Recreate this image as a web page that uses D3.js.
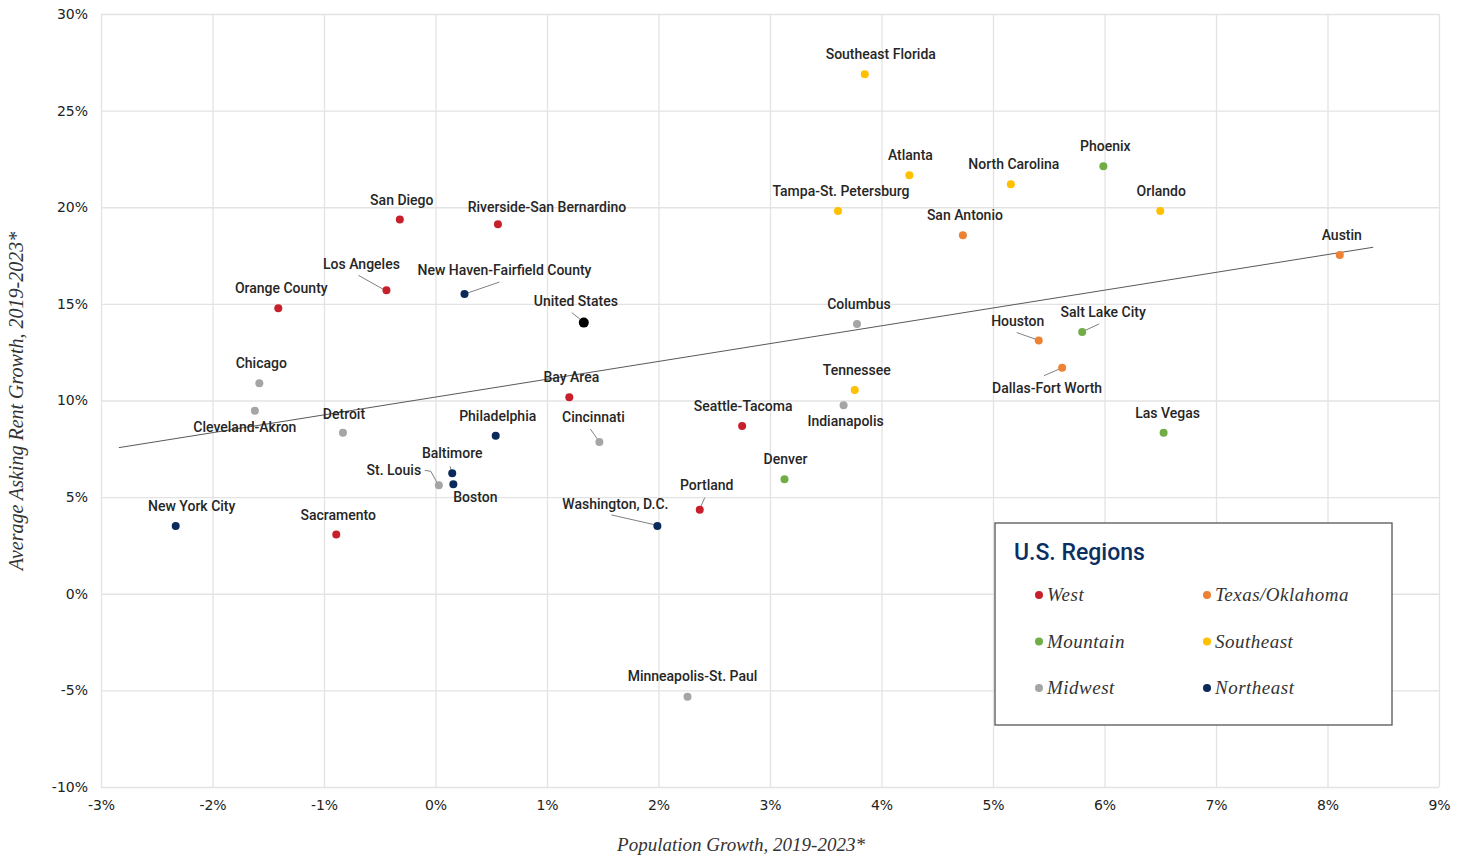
<!DOCTYPE html>
<meta charset="utf-8">
<head>
<script src="https://d3js.org/d3.v7.min.js"></script>
<style>
  body { margin: 0; background: #fff; }
  .tick text { font-family: "DejaVu Sans", sans-serif; font-size: 14px; fill: #222; }
  .lbl { font-family: Roboto, sans-serif; font-size: 14px; font-weight: 500; fill: #262626; }
  .ttl { font-family: "Liberation Serif", serif; font-style: italic; font-size: 19px; fill: #333; }
</style>
</head>
<body>
<div id="my_dataviz"></div>
<script>

// metro areas and their values (population growth %, asking rent growth %)
var cities = ["San Diego", "Riverside-San Bernardino", "Los Angeles", "Orange County", "Bay Area",
  "Seattle-Tacoma", "Portland", "Sacramento",
  "Phoenix", "Salt Lake City", "Denver", "Las Vegas",
  "Chicago", "Cleveland-Akron", "Detroit", "St. Louis", "Cincinnati", "Columbus", "Indianapolis", "Minneapolis-St. Paul",
  "New York City", "Philadelphia", "Baltimore", "Boston", "New Haven-Fairfield County", "Washington, D.C.",
  "Austin", "San Antonio", "Houston", "Dallas-Fort Worth",
  "Southeast Florida", "Atlanta", "North Carolina", "Tampa-St. Petersburg", "Orlando", "Tennessee",
  "United States"];
var popGrowth = [-0.32, 0.56, -0.44, -1.41, 1.20,
  2.75, 2.37, -0.89,
  5.99, 5.80, 3.13, 6.53,
  -1.58, -1.62, -0.83, 0.03, 1.47, 3.78, 3.66, 2.26,
  -2.33, 0.54, 0.15, 0.16, 0.26, 1.99,
  8.11, 4.73, 5.41, 5.62,
  3.85, 4.25, 5.16, 3.61, 6.50, 3.76,
  1.33];
var rentGrowth = [19.36, 19.12, 15.70, 14.77, 10.17,
  8.68, 4.35, 3.06,
  22.12, 13.55, 5.92, 8.33,
  10.89, 9.47, 8.33, 5.61, 7.85, 13.96, 9.75, -5.33,
  3.51, 8.18, 6.23, 5.66, 15.51, 3.51,
  17.53, 18.55, 13.10, 11.70,
  26.88, 21.65, 21.19, 19.81, 19.81, 10.54,
  14.03];
var cityRegion = ["West", "West", "West", "West", "West", "West", "West", "West",
  "Mountain", "Mountain", "Mountain", "Mountain",
  "Midwest", "Midwest", "Midwest", "Midwest", "Midwest", "Midwest", "Midwest", "Midwest",
  "Northeast", "Northeast", "Northeast", "Northeast", "Northeast", "Northeast",
  "Texas/Oklahoma", "Texas/Oklahoma", "Texas/Oklahoma", "Texas/Oklahoma",
  "Southeast", "Southeast", "Southeast", "Southeast", "Southeast", "Southeast",
  "US"];

// trend line end points
var trendX = [-2.84, 8.41];
var trendY = [7.56, 17.93];

var xTicks = [-3, -2, -1, 0, 1, 2, 3, 4, 5, 6, 7, 8, 9];
var yTicks = [-10, -5, 0, 5, 10, 15, 20, 25, 30];

var regions = ["West", "Texas/Oklahoma", "Mountain", "Southeast", "Midwest", "Northeast"];
var colors = {
  "West": "#C8202A", "Texas/Oklahoma": "#EE8133", "Mountain": "#70AD47",
  "Southeast": "#FFC000", "Midwest": "#A5A5A5", "Northeast": "#0B2A5B", "US": "#000"
};

// label placement relative to the dot: [dx, dy] of label centre
var labelPos = {
  "San Diego": [2, -20], "Riverside-San Bernardino": [49, -17], "Los Angeles": [-25, -26],
  "Orange County": [3, -20], "Bay Area": [2, -20], "Seattle-Tacoma": [1, -20],
  "Portland": [7, -25], "Sacramento": [2, -20], "Phoenix": [2, -20], "Salt Lake City": [21, -20],
  "Denver": [1, -20], "Las Vegas": [4, -20], "Chicago": [2, -20], "Cleveland-Akron": [-10, 16],
  "Detroit": [1, -19], "St. Louis": [-45, -15], "Cincinnati": [-6, -25], "Columbus": [2, -20],
  "Indianapolis": [2, 16], "Minneapolis-St. Paul": [5, -21], "New York City": [16, -20],
  "Philadelphia": [2, -20], "Baltimore": [0, -20], "Boston": [22, 13],
  "New Haven-Fairfield County": [40, -24], "Washington, D.C.": [-42, -22], "Austin": [2, -20],
  "San Antonio": [2, -20], "Houston": [-21, -20], "Dallas-Fort Worth": [-15, 20],
  "Southeast Florida": [16, -20], "Atlanta": [1, -20], "North Carolina": [3, -20],
  "Tampa-St. Petersburg": [3, -20], "Orlando": [1, -20], "Tennessee": [2, -20],
  "United States": [-8, -22]
};
// leader lines (points relative to the dot)
var leaders = {
  "Los Angeles": [[-28, -15], [-3, -1]],
  "Portland": [[5, -12], [1, -3]],
  "Salt Lake City": [[17, -8], [2, -1]],
  "St. Louis": [[-14, -15], [-8, -14], [-2, -3]],
  "Cincinnati": [[-9, -13], [-2, -3]],
  "Baltimore": [[-2, -7], [-1, -3]],
  "New Haven-Fairfield County": [[35, -12], [3, -1]],
  "Washington, D.C.": [[-46, -11], [-2, -1]],
  "Houston": [[-22, -8], [-2, -1]],
  "Dallas-Fort Worth": [[-18, 8], [-2, 1]],
  "United States": [[-12, -10], [-2, -2]]
};

var W = 1466, H = 858;
var svg = d3.select("#my_dataviz").append("svg")
  .attr("width", W).attr("height", H);

var x = d3.scaleLinear().domain([-3, 9]).range([101, 1439]);
var y = d3.scaleLinear().domain([-10, 30]).range([787, 14]);
var pct = function(d) { return (d < 0 ? "-" + Math.abs(d) : d) + "%"; };

// gridlines + axes
var gx = svg.append("g")
  .attr("transform", "translate(0,787)")
  .call(d3.axisBottom(x).tickValues(xTicks).tickFormat(pct).tickSize(-773).tickPadding(13));
var gy = svg.append("g")
  .attr("transform", "translate(101,0)")
  .call(d3.axisLeft(y).tickValues(yTicks).tickFormat(pct).tickSize(-1338).tickPadding(13));
[gx, gy].forEach(function(g) {
  g.select(".domain").remove();
  g.selectAll(".tick line").attr("stroke", "#e3e3e3").attr("stroke-width", 1.3);
});

// trend line
svg.append("line")
  .attr("x1", x(trendX[0])).attr("y1", y(trendY[0]))
  .attr("x2", x(trendX[1])).attr("y2", y(trendY[1]))
  .attr("stroke", "#595959").attr("stroke-width", 1);

var data = cities.map(function(c, i) {
  return { name: c, px: popGrowth[i], ry: rentGrowth[i], region: cityRegion[i] };
});

// leader lines
svg.append("g").selectAll("path")
  .data(data.filter(function(d) { return leaders[d.name]; }))
  .enter().append("path")
  .attr("d", function(d) {
    var cx = x(d.px), cy = y(d.ry);
    return "M" + leaders[d.name].map(function(p) { return (cx + p[0]) + "," + (cy + p[1]); }).join("L");
  })
  .attr("fill", "none").attr("stroke", "#808080").attr("stroke-width", 1);

// dots
svg.append("g").selectAll("circle")
  .data(data).enter().append("circle")
  .attr("cx", function(d) { return x(d.px); })
  .attr("cy", function(d) { return y(d.ry); })
  .attr("r", function(d) { return d.region == "US" ? 5 : 4; })
  .style("fill", function(d) { return colors[d.region]; });

// labels
svg.append("g").selectAll("text")
  .data(data).enter().append("text")
  .attr("class", "lbl")
  .attr("text-anchor", "middle")
  .attr("x", function(d) { return x(d.px) + labelPos[d.name][0]; })
  .attr("y", function(d) { return y(d.ry) + labelPos[d.name][1] + 5; })
  .text(function(d) { return d.name; });

// axis titles
svg.append("text").attr("class", "ttl")
  .attr("x", 741).attr("y", 851).attr("text-anchor", "middle")
  .text("Population Growth, 2019-2023*");
svg.append("text").attr("class", "ttl").style("font-size", "20px")
  .attr("transform", "translate(23,401)rotate(-90)").attr("text-anchor", "middle")
  .text("Average Asking Rent Growth, 2019-2023*");

// legend
var lg = svg.append("g").attr("transform", "translate(995,523)");
lg.append("rect").attr("width", 397).attr("height", 202)
  .attr("fill", "#fff").attr("stroke", "#555").attr("stroke-width", 1.3);
lg.append("text").attr("x", 19).attr("y", 37)
  .style("font-family", "Roboto, sans-serif").style("font-size", "23px").style("font-weight", 500)
  .style("fill", "#0B2F63").text("U.S. Regions");
var item = lg.selectAll("g.item").data(regions).enter().append("g")
  .attr("transform", function(d, i) {
    return "translate(" + (i % 2 ? 212 : 44) + "," + (72 + Math.floor(i / 2) * 46.5) + ")";
  });
item.append("circle").attr("r", 4).style("fill", function(d) { return colors[d]; });
item.append("text").attr("class", "ttl").attr("x", 8).attr("y", 6)
  .style("letter-spacing", "0.5px")
  .text(function(d) { return d; });

</script>
</body>
</html>
